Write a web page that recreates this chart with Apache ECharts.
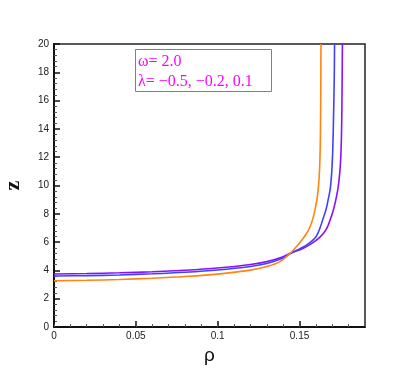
<!DOCTYPE html>
<html><head><meta charset="utf-8">
<script src="https://cdn.jsdelivr.net/npm/echarts@6/dist/echarts.min.js"></script>
<style>html,body{margin:0;padding:0;background:#fff}#c{width:415px;height:369px}</style>
</head><body><div id="c"></div>
<script>
// rho values and z values for each curve
const rhoOrange = [0, 0.02, 0.04, 0.06, 0.08, 0.10, 0.12, 0.13, 0.138, 0.1449, 0.149, 0.1537, 0.1565, 0.1585, 0.160, 0.1612, 0.162, 0.1625, 0.1628, 0.163, 0.1631];
const zOrange   = [3.27, 3.30, 3.36, 3.45, 3.57, 3.74, 4.02, 4.27, 4.62, 5.28, 5.80, 6.50, 7.10, 7.80, 8.60, 9.50, 10.6, 12.0, 14.0, 17.0, 20.0];

const rhoBlue = [0, 0.02, 0.04, 0.06, 0.08, 0.10, 0.12, 0.13, 0.14, 0.145, 0.1505, 0.1551, 0.1602, 0.1625, 0.1645, 0.1662, 0.1675, 0.1688, 0.1697, 0.1703, 0.1708, 0.1712, 0.1714];
const zBlue   = [3.60, 3.63, 3.68, 3.76, 3.87, 4.03, 4.28, 4.49, 4.87, 5.22, 5.55, 5.85, 6.40, 7.00, 7.70, 8.30, 9.00, 9.80, 11.0, 12.5, 15.0, 17.5, 20.0];

const rhoPurple = [0, 0.02, 0.04, 0.06, 0.08, 0.10, 0.12, 0.13, 0.14, 0.145, 0.152, 0.158, 0.162, 0.1645, 0.1668, 0.1685, 0.1705, 0.172, 0.1735, 0.1745, 0.1752, 0.1757, 0.176, 0.1762];
const zPurple   = [3.75, 3.78, 3.83, 3.90, 4.01, 4.17, 4.42, 4.62, 4.97, 5.24, 5.55, 5.95, 6.30, 6.60, 7.00, 7.50, 8.20, 8.90, 9.80, 10.8, 12.0, 14.0, 17.0, 20.0];

const xTicks = [0, 0.05, 0.1, 0.15];
const yTicks = [0, 2, 4, 6, 8, 10, 12, 14, 16, 18, 20];
const boxLines = ['ω= 2.0', 'λ= −0.5, −0.2, 0.1'];

const pairs = (xs, ys) => xs.map((x, i) => [x, ys[i]]);

const chart = echarts.init(document.getElementById('c'), null, {renderer: 'canvas'});
const mkSeries = (name, xs, ys, color) => ({
  name, type: 'line', data: pairs(xs, ys), showSymbol: false, smooth: 0.35,
  lineStyle: {color, width: 1.6}, itemStyle: {color}, clip: true
});
chart.setOption({
  animation: false,
  backgroundColor: '#fff',
  grid: {left: 54, right: 50, top: 44, bottom: 42, outerBoundsMode: 'none', containLabel: false,
         show: true, borderColor: '#222', borderWidth: 1.5, backgroundColor: 'transparent'},
  xAxis: [{
    type: 'value', min: 0, max: 0.19, interval: 0.05,
    name: 'ρ', nameLocation: 'middle', nameGap: 18,
    nameTextStyle: {fontFamily: 'Liberation Sans', fontSize: 19, color: '#111'},
    axisLine: {show: true, onZero: false, lineStyle: {color: '#111', width: 2}},
    axisTick: {show: true, inside: true, length: 6, lineStyle: {color: '#111', width: 1.5}},
    minorTick: {show: false},
    axisLabel: {showMaxLabel: false, fontFamily: 'Liberation Sans', fontSize: 10, color: '#222', margin: 4,
      formatter: v => xTicks.includes(+v.toFixed(4)) ? String(+v.toFixed(4)) : ''},
    splitLine: {show: false}
  }, {
    type: 'value', min: 0, max: 0.19, interval: 0.01, position: 'bottom',
    axisLine: {show: false}, axisLabel: {show: false}, splitLine: {show: false},
    axisTick: {show: true, inside: true, length: 3, lineStyle: {color: '#555', width: 1}}
  }],
  yAxis: {
    type: 'value', min: 0, max: 20, interval: 2,
    name: 'z', nameLocation: 'middle', nameGap: 30, nameRotate: 90, nameMoveOverlap: false,
    nameTextStyle: {fontFamily: 'Liberation Serif', fontWeight: 'bold', fontSize: 22, color: '#111'},
    axisLine: {show: true, onZero: false, lineStyle: {color: '#111', width: 2}},
    axisTick: {show: true, inside: true, length: 6, lineStyle: {color: '#111', width: 1.5}},
    minorTick: {show: true, splitNumber: 5, length: 3, lineStyle: {color: '#555', width: 1}},
    axisLabel: {fontFamily: 'Liberation Sans', fontSize: 10, color: '#222', margin: 5,
      formatter: v => yTicks.includes(v) ? String(v) : ''},
    splitLine: {show: false}
  },
  series: [
    mkSeries('λ=0.1', rhoPurple, zPurple, '#8a10ff'),
    mkSeries('λ=-0.2', rhoBlue, zBlue, '#4040ff'),
    mkSeries('λ=-0.5', rhoOrange, zOrange, '#ff8410')
  ],
  graphic: [
    {type: 'rect', left: 135, top: 49, shape: {width: 136, height: 42}, style: {fill: '#fff', stroke: '#808080', lineWidth: 1}, z: 100},
    {type: 'text', left: 138, top: 54, style: {text: boxLines[0], fill: '#ff00ff', font: '16px "Liberation Serif"'}, z: 101},
    {type: 'text', left: 138, top: 74, style: {text: boxLines[1], fill: '#ff00ff', font: '16px "Liberation Serif"'}, z: 101}
  ]
});
</script></body></html>
